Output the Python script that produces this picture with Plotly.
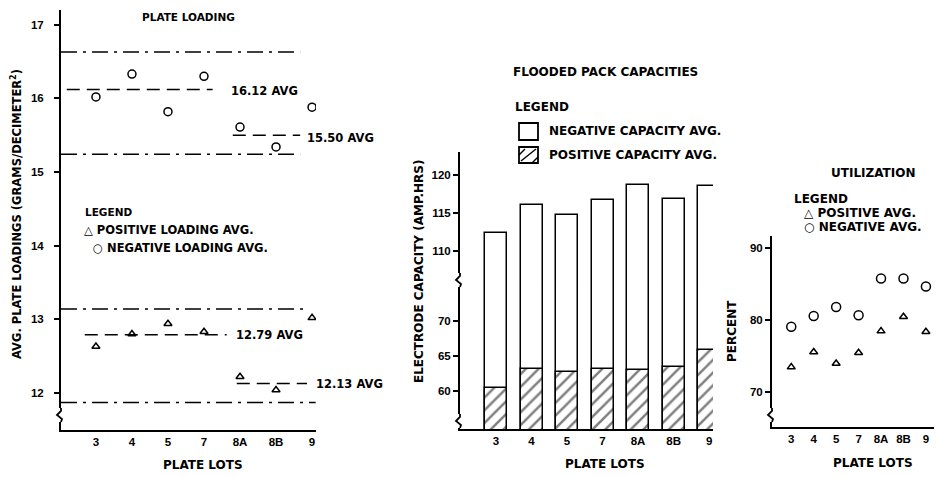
import plotly.graph_objects as go

W, H = 936, 477

# ---------------- data ----------------
lots = ["3", "4", "5", "7", "8A", "8B", "9"]

# Plate loading (grams/decimeter^2)
neg_loading = [16.02, 16.33, 15.82, 16.30, 15.61, 15.34, 15.88]
pos_loading = [12.63, 12.80, 12.94, 12.83, 12.22, 12.04, 13.02]
neg_avg = [16.12, 15.50]
pos_avg = [12.79, 12.13]
neg_limits = [16.63, 15.24]
pos_limits = [13.14, 11.87]
load_ticks = [12, 13, 14, 15, 16, 17]

# Flooded pack capacities (amp-hrs)
neg_capacity = [112.4, 116.1, 114.7, 116.7, 118.7, 116.8, 118.6]
pos_capacity = [60.4, 63.05, 62.7, 63.1, 63.0, 63.4, 65.8]
cap_ticks_hi = [110, 115, 120]
cap_ticks_lo = [60, 65, 70]

# Utilization (percent)
neg_util = [79.1, 80.6, 81.85, 80.7, 85.8, 85.8, 84.7]
pos_util = [73.5, 75.6, 74.0, 75.5, 78.5, 80.5, 78.4]
util_ticks = [70, 80, 90]

# ---------------- helpers ----------------
def px(x):
    return x / W


def py(y):
    return 1 - y / H


TXT = "DejaVu Sans"
TICK = dict(family="Liberation Sans", size=11.5, color="black", weight="bold")


def label(text, x, y, size=12, anchor="left", angle=0, family=TXT):
    return dict(text=text, x=px(x), y=py(y), xref="paper", yref="paper",
                xanchor=anchor, yanchor="middle", showarrow=False, textangle=angle,
                font=dict(family=family, size=size, color="black", weight="bold"))


def brk(x, y):
    s = [dict(type="rect", xref="paper", yref="paper", x0=px(x - 5), x1=px(x + 5),
              y0=py(y + 7), y1=py(y - 7), fillcolor="white", line=dict(width=0), layer="above")]
    pts = [(x, y - 7), (x, y - 4), (x - 4, y), (x + 1, y + 4), (x, y + 7)]
    path = "M " + " L ".join(f"{px(a)},{py(b)}" for a, b in pts)
    s.append(dict(type="path", xref="paper", yref="paper", path=path,
                  line=dict(color="black", width=1.8), layer="above"))
    return s


fig = go.Figure()

# ---- left panel: plate loading ----
fig.add_trace(go.Scatter(x=lots, y=neg_loading, mode="markers", xaxis="x", yaxis="y",
                         marker=dict(symbol="circle-open", size=8, color="black", line=dict(width=1.5))))
fig.add_trace(go.Scatter(x=lots, y=pos_loading, mode="markers", xaxis="x", yaxis="y",
                         marker=dict(symbol="triangle-up-open", size=7, color="black", line=dict(width=1.5))))

# ---- middle panel: capacities (broken axis) ----
for ya in ["y2", "y3"]:
    fig.add_trace(go.Bar(x=lots, y=neg_capacity, xaxis="x2", yaxis=ya, width=0.62,
                         marker=dict(color="white", line=dict(color="black", width=1.5))))
fig.add_trace(go.Bar(x=lots, y=pos_capacity, xaxis="x2", yaxis="y3", width=0.62,
                     marker=dict(color="white", line=dict(color="black", width=1.5),
                                 pattern=dict(shape="/", fgcolor="black", bgcolor="white",
                                              size=9, solidity=0.28))))

# ---- right panel: utilization ----
fig.add_trace(go.Scatter(x=lots, y=neg_util, mode="markers", xaxis="x3", yaxis="y4",
                         marker=dict(symbol="circle-open", size=9, color="black", line=dict(width=1.5))))
fig.add_trace(go.Scatter(x=lots, y=pos_util, mode="markers", xaxis="x3", yaxis="y4",
                         marker=dict(symbol="triangle-up-open", size=7, color="black", line=dict(width=1.5))))

axis_common = dict(showline=True, linewidth=2, linecolor="black", showgrid=False,
                   zeroline=False, tickfont=TICK)
yaxis_common = dict(axis_common, ticks="outside", ticklen=5, tickwidth=1.5, tickcolor="black")
xaxis_common = dict(axis_common, ticks="", type="category")

shapes = []
dash_avg = "13px,7px"
dash_lim = "16px,6px,3px,6px"
# left panel reference lines (x spans in category index units)
avg_spans = [(-0.81, 3.24), (3.80, 5.67)]
lim_spans_hi = [(-0.97, 5.67), (-0.97, 5.67)]
pavg_spans = [(-0.31, 3.63), (3.91, 5.86)]
lim_spans_lo = [(-0.97, 5.8), (-0.97, 6.1)]
for v, (a, b) in zip(neg_avg, avg_spans):
    shapes.append(dict(type="line", xref="x", yref="y", x0=a, x1=b, y0=v, y1=v,
                       line=dict(color="black", width=1.5, dash=dash_avg)))
for v, (a, b) in zip(pos_avg, pavg_spans):
    shapes.append(dict(type="line", xref="x", yref="y", x0=a, x1=b, y0=v, y1=v,
                       line=dict(color="black", width=1.5, dash=dash_avg)))
for v, (a, b) in zip(neg_limits, lim_spans_hi):
    shapes.append(dict(type="line", xref="x", yref="y", x0=a, x1=b, y0=v, y1=v,
                       line=dict(color="black", width=1.5, dash=dash_lim)))
for v, (a, b) in zip(pos_limits, lim_spans_lo):
    shapes.append(dict(type="line", xref="x", yref="y", x0=a, x1=b, y0=v, y1=v,
                       line=dict(color="black", width=1.5, dash=dash_lim)))

# middle legend boxes
shapes.append(dict(type="rect", xref="paper", yref="paper", x0=px(519), x1=px(538),
                   y0=py(140), y1=py(123), line=dict(color="black", width=1.8), fillcolor="white"))
shapes.append(dict(type="rect", xref="paper", yref="paper", x0=px(519), x1=px(538),
                   y0=py(163), y1=py(147), line=dict(color="black", width=1.8), fillcolor="white"))
for (a, b), (c, d) in [((521, 161), (536, 149)), ((519, 155), (525, 149)), ((532, 163), (538, 157))]:
    shapes.append(dict(type="line", xref="paper", yref="paper", x0=px(a), y0=py(b),
                       x1=px(c), y1=py(d), line=dict(color="black", width=1.5)))

# axis breaks
shapes += brk(61, 415)
shapes += brk(460, 280)
shapes += brk(460, 421)
shapes += brk(772, 415)

annotations = [
    label("PLATE LOADING", 188, 17, size=10.5, anchor="center"),
    label(f"{neg_avg[0]:.2f} AVG", 229, 91, size=11.5),
    label(f"{neg_avg[1]:.2f} AVG", 305, 138, size=11.5),
    label(f"{pos_avg[0]:.2f} AVG", 234, 335, size=11.5),
    label(f"{pos_avg[1]:.2f} AVG", 314, 384, size=11.5),
    label("LEGEND", 83, 212, size=10.5),
    label("△ POSITIVE LOADING AVG.", 82, 230, size=11.5),
    label("○ NEGATIVE LOADING AVG.", 91, 248, size=11.5),
    label("AVG. PLATE LOADINGS (GRAMS/DECIMETER<sup>2</sup>)", 16, 214, size=11.5,
          anchor="center", angle=-90),
    label("PLATE LOTS", 203, 465, anchor="center"),
    label("FLOODED PACK CAPACITIES", 605, 72, anchor="center"),
    label("LEGEND", 513, 107),
    label("NEGATIVE CAPACITY AVG.", 547, 131),
    label("POSITIVE CAPACITY AVG.", 547, 155),
    label("ELECTRODE CAPACITY (AMP.HRS)", 419, 272, anchor="center", angle=-90),
    label("PLATE LOTS", 605, 464, anchor="center"),
    label("UTILIZATION", 873, 173, anchor="center"),
    label("LEGEND", 792, 199),
    label("△ POSITIVE AVG.", 802, 213),
    label("○ NEGATIVE AVG.", 802, 227),
    label("PERCENT", 732, 331, anchor="center", angle=-90),
    label("PLATE LOTS", 873, 463, anchor="center"),
]

fig.update_layout(
    width=W, height=H, margin=dict(l=0, r=0, t=0, b=0),
    paper_bgcolor="white", plot_bgcolor="white", showlegend=False,
    barmode="overlay", bargap=0,
    xaxis=dict(xaxis_common, domain=[px(61), px(316)], anchor="y", range=[-0.97, 6.11]),
    yaxis=dict(yaxis_common, domain=[py(430), py(10)], anchor="x", range=[11.497, 17.2],
               tickvals=load_ticks, ticklabelstandoff=8),
    xaxis2=dict(xaxis_common, domain=[px(460), px(713)], anchor="y3", range=[-1.014, 6.11]),
    yaxis2=dict(yaxis_common, domain=[py(282), py(152)], anchor="x2", range=[105.87, 123.04],
                tickvals=cap_ticks_hi),
    yaxis3=dict(yaxis_common, domain=[py(429.3), py(282)], anchor="x2", range=[54.47, 75.53],
                tickvals=cap_ticks_lo),
    xaxis3=dict(xaxis_common, domain=[px(772), px(934)], anchor="y4", range=[-0.858, 6.36]),
    yaxis4=dict(yaxis_common, domain=[py(426.7), py(236)], anchor="x3", range=[65.22, 91.71],
                tickvals=util_ticks),
    shapes=shapes, annotations=annotations,
)

fig.write_html("out.html", config={"displayModeBar": False},
               post_script="document.body.style.margin='0';document.body.style.overflow='hidden';")
